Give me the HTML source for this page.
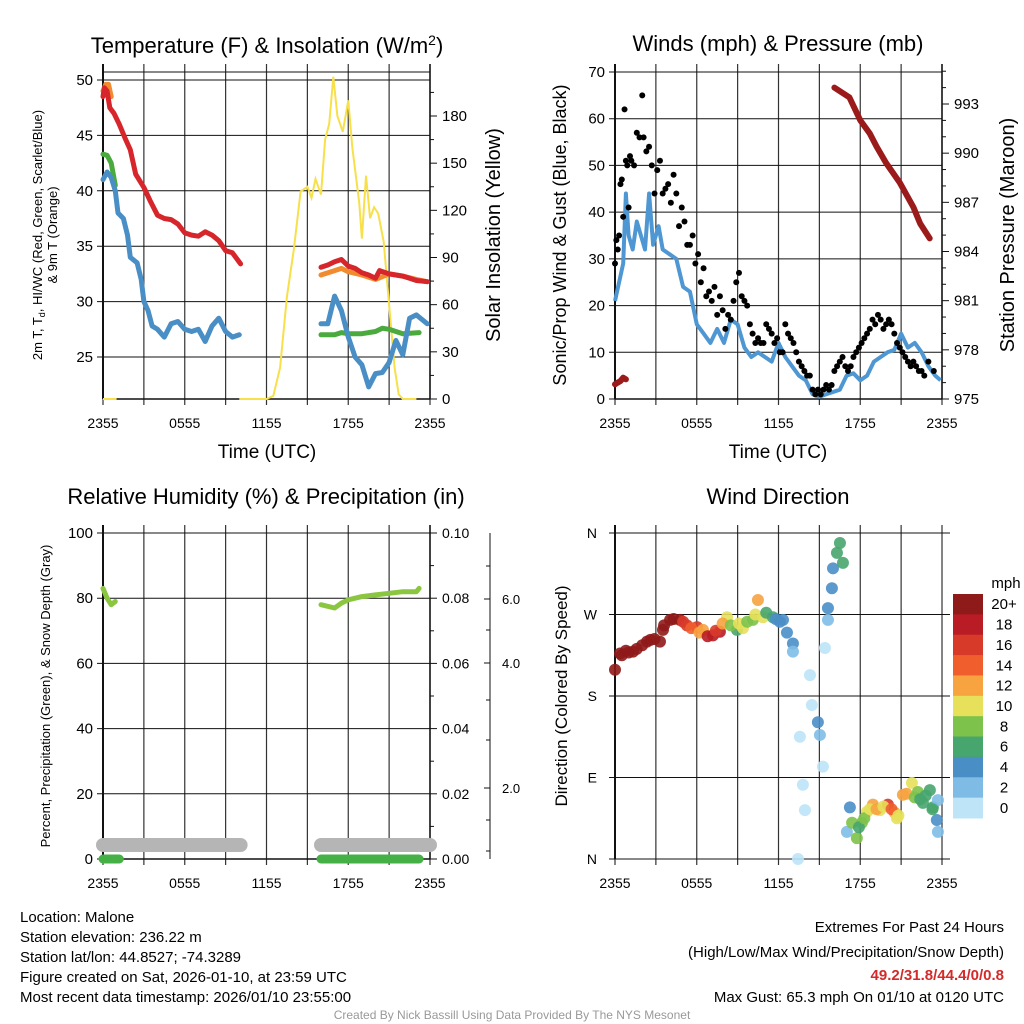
<!DOCTYPE html>
<html><head><meta charset="utf-8"><style>
html,body{margin:0;padding:0;background:#fff;}
svg{display:block;font-family:"Liberation Sans",sans-serif;}
</style></head><body>
<svg id="c" width="1024" height="1024" viewBox="0 0 1024 1024"></svg>
<script>
// ---- data (t = hours since 2355 UTC) ----
const tempT=[0,0.1,0.3,0.5,0.8,1.2,1.6,2,2.4,3,3.5,4,4.5,5,5.5,6,6.5,7,7.5,8,8.5,9,9.5,10.1,null,16,16.5,17,17.5,18,18.5,19,19.5,20,20.3,21,22,22.5,23,23.8];
const tempV=[48.5,49.3,49,47.5,47,46,44.8,43.7,41.5,40.3,39,37.8,37.5,37.4,37,36.2,36,35.9,36.3,36,35.5,34.6,34.4,33.4,null,33.1,33.3,33.6,33.8,33.2,33,32.6,32.4,32.1,32.8,32.5,32.3,32.1,31.9,31.8];
const t9T=[0,0.2,0.4,0.6,null,16,17,17.5,18,19,20,21,22,23,23.8];
const t9V=[49,49.6,49.6,48.5,null,32.4,32.8,33,32.7,32.4,32,32.5,32.3,32,31.8];
const tdT=[0,0.3,0.6,0.9,null,16,17,17.5,18,19,20,20.5,21,22,23.2];
const tdV=[43.3,43.2,42.5,40.5,null,27,27,27.2,27.1,27.1,27.3,27.6,27.5,27.1,27.2];
const wcT=[0,0.3,0.6,0.9,1.1,1.5,1.8,2,2.5,2.8,3,3.3,3.6,4,4.5,5,5.5,6,6.5,7,7.5,8,8.5,9,9.5,10,null,16,16.5,17,17.5,18,18.5,19,19.5,20,20.5,21,21.5,22,22.5,23,23.8];
const wcV=[41,41.7,41.2,40,38,37.5,36,34,33.5,32,30,29.2,27.8,27.5,26.8,28,28.2,27.5,27.3,27.5,26.4,27.8,28.5,27.3,26.8,27,null,28,28,30.5,29.2,26.8,25,24.3,22.3,23.5,23.6,24.5,26.5,25.2,28.5,28.8,28];
const solT=[0,1,null,10,12,12.5,13,13.5,14,14.5,15,15.3,15.6,16,16.3,16.6,16.9,17.2,17.6,18,18.3,18.8,19,19.3,19.6,19.9,20.2,20.6,21,21.4,21.7,22,23];
const solV=[0,0,null,0,0,2,20,65,95,132,135,128,140,130,165,175,205,180,170,190,160,125,102,142,115,122,118,100,60,20,3,0,0];

const windT=[0,0.3,0.6,0.8,1,1.3,1.6,1.9,2.2,2.5,2.8,3.2,3.5,4,4.5,5,5.5,6,6.5,7,7.5,8,8.5,9,9.5,10,10.5,11,11.5,12,12.5,13,13.5,14,14.5,15,15.5,16,16.5,17,17.5,18,18.5,19,19.5,20,20.5,21,21.5,22,22.5,23,23.5,23.9];
const windV=[21,25,29,44,35,32,38,35,32,44,33,37,32,31,30,24,23,16,14,12,15,12,17,16,11,9,10,9,8,12,9,7,5,4,1,0.5,1,1.5,2,5,5.5,4,5,8,9,10,10.5,14,11,12,10,7,5,4];
const gustT=[0,0.1,0.2,0.3,0.4,0.5,0.6,0.7,0.8,0.9,1.0,1.1,1.2,1.4,1.6,1.8,2.0,2.1,2.3,2.5,2.7,2.9,3.1,3.3,3.5,3.7,3.9,4.1,4.3,4.5,4.7,4.9,5.1,5.3,5.5,5.7,5.9,6.1,6.3,6.5,6.7,6.9,7.1,7.3,7.5,7.7,7.9,8.1,8.3,8.5,8.7,8.9,9.1,9.3,9.5,9.7,9.9,10.1,10.3,10.5,10.7,10.9,11.1,11.3,11.5,11.7,11.9,12.1,12.3,12.5,12.7,12.9,13.1,13.3,13.5,13.7,13.9,14.1,14.3,14.5,14.7,14.9,15.1,15.3,15.5,15.7,15.9,16.1,16.3,16.5,16.7,16.9,17.1,17.3,17.5,17.7,17.9,18.1,18.3,18.5,18.7,18.9,19.1,19.3,19.5,19.7,19.9,20.1,20.3,20.5,20.7,20.9,21.1,21.3,21.5,21.7,21.9,22.1,22.3,22.5,22.7,23.0,23.4];
const gustV=[29,34,32,35,46,47,39,62,51,50,41,52,51,50,57,56,65,56,53,54,50,44,49,51,44,45,46,42,48,44,37,41,38,33,33,35,29,31,25,28,22,23,21,24,18,22,19,15,18,17,21,25,27,22,21,20,16,14,12,13,12,12,16,15,14,12,13,10,10,16,14,13,12,10,8,7,6,5,5,2,1,2,1,2,3,2,3,6,7,8,9,7,6,7,9,10,11,12,13,14,15,17,16,18,17,15,16,17,16,14,12,11,10,9,8,7,8,7,6,6,5,8,6];
const presT=[0,0.2,0.4,0.6,0.8,null,16.1,17.2,18,18.7,19.2,19.9,20.9,21.9,22.4,23.1];
const presV=[975.9,976,976.1,976.3,976.2,null,994.0,993.4,992.0,991.2,990.4,989.4,988.2,986.7,985.7,984.8];

const rhT=[0,0.3,0.6,0.9,null,16,17,17.5,18,19,20,21,22,23,23.2];
const rhV=[83,80,78,79,null,78,77,78.5,79.5,80.5,81,81.5,82,82,83];
const prT=[0,1.2,null,16,23.2];
const prV=[0,0,null,0,0];
const snT=[0,10.1,null,16,24];
const snV=[0.5,0.5,null,0.5,0.5];

const dirT=[0,0.37,1.32,2.35,3.3,3.52,4.04,4.77,5.28,6.02,6.46,7.19,7.7,8.22,8.95,9.39,10.12,10.49,10.86,11.59,12.33,12.62,13.06,13.06,14.31,14.45,13.57,15.04,14.89,13.79,13.94,13.43,15.26,15.41,15.63,15.63,15.92,16.0,16.29,16.51,16.73,17.24,17.02,17.75,18.12,18.49,18.93,19.44,20.03,20.54,20.69,21.13,21.79,22.23,22.6,23.11,23.33,23.62,23.7,23.7,
0.5,0.8,1.0,1.6,2.0,2.6,2.9,3.6,4.3,5.0,5.6,6.2,6.8,7.4,7.9,8.5,9.1,9.7,10.3,11.1,11.8,12.1,17.4,17.9,18.3,18.7,19.2,19.7,20.3,20.8,21.4,22.0,22.4,22.8,23.3];
const dirV=[209,227,229,240,240,253,264,264,258,256,253,247,251,267,253,255,264,286,267,267,264,250,238,229,203,170,135,137,151,82,54,0,102,233,264,277,299,321,338,349,327,57,30,23,40,52,60,54,60,51,45,71,84,74,62,76,57,43,30,65,
225,230,228,232,236,242,243,258,265,262,255,250,246,252,260,258,260,262,270,272,265,262,40,35,45,55,55,58,55,48,72,68,66,70,55];
const dirS=[20,20,20,20,20,20,20,20,16,16,12,18,18,10,6,10,8,12,10,6,4,4,4,2,0,0,0,2,4,0,0,0,0,0,2,4,4,4,6,6,6,4,2,8,8,10,12,10,16,12,10,12,10,8,6,6,6,4,2,2,
20,20,20,20,20,20,20,20,20,16,14,12,18,16,12,8,10,8,10,6,4,4,8,6,8,10,12,10,14,10,12,8,6,6,6];

const cbLabels=["20+","18","16","14","12","10","8","6","4","2","0"];
const cbColors=["#8f1a1a","#b91c24","#d83a2a","#ef5e2c","#f6a340","#e6e05a","#7dc24a","#47a56e","#4a8ec6","#7fbce5","#bde4f7"];
const timeLabels=["2355","0555","1155","1755","2355"];

// ---- drawing ----
const NS="http://www.w3.org/2000/svg";
const svg=document.getElementById('c');
function el(tag,attrs,parent){const e=document.createElementNS(NS,tag);for(const k in attrs)e.setAttribute(k,attrs[k]);(parent||svg).appendChild(e);return e;}
function txt(s,x,y,size,anchor,parent,extra){const e=el('text',Object.assign({x:x,y:y,'font-size':size,'text-anchor':anchor||'middle',fill:'#000'},extra||{}),parent);e.textContent=s;return e;}
function line(x1,y1,x2,y2,parent,st){return el('line',{x1:x1,y1:y1,x2:x2,y2:y2,stroke:(st&&st.c)||'#111','stroke-width':(st&&st.w)||1},parent);}
function path(T,V,sx,sy){let d='',pen=false;for(let i=0;i<T.length;i++){if(T[i]===null){pen=false;continue;}d+=(pen?'L':'M')+sx(T[i]).toFixed(1)+','+sy(V[i]).toFixed(1);pen=true;}return d;}

function panel(name,x0,x1,yTop,yBot){
  const g=el('g',{});
  
  
  const sx=t=>x0+t*(x1-x0)/24;
  for(let i=0;i<=8;i++){const x=sx(i*3);line(x,yTop-8,x,yBot+6,g,{c:'#333',w:1.2});}
  timeLabels.forEach((s,i)=>{const t=txt(s,sx(i*6),yBot+29,14,'middle',g);});
  return {g,sx};
}

// Panel 1: temperature
(function(){
  const x0=103,x1=430,yT=72,yB=399;
  const P=panel('temperature-panel',x0,x1,yT,yB);const g=P.g,sx=P.sx;
  const sy=v=>357-(v-25)*(277/25);
  const sr=v=>399-v*283/180;
  line(x0,yT,x1,yT,g);line(x0,yB,x1,yB,g,{w:1.5});
  line(x0,yT-8,x0,yB,g,{w:2});line(x1,yT-8,x1,yB,g,{w:1.5});
  for(let v=25;v<=50;v+=5){line(x0-6,sy(v),x1,sy(v),g);const t=txt(String(v),x0-10,sy(v)+5,15,'end',g);}
  for(let v=0;v<=180;v+=30){line(x1,sr(v),x1+7,sr(v),g);const t=txt(String(v),x1+12,sr(v)+5,15,'start',g);}
  for(let v=15;v<=195;v+=30){line(x1,sr(v),x1+4,sr(v),g);}
  const sol=el('path',{d:path(solT,solV,sx,sr),fill:'none',stroke:'#f7e04a','stroke-width':2},g);
  
  const series=[[t9T,t9V,'#f28a2e','temp-9m-line'],[tempT,tempV,'#d7262b','temp-2m-line'],[tdT,tdV,'#4aaa3e','dewpoint-line'],[wcT,wcV,'#4a8ec6','windchill-line']];
  series.forEach(s=>{const p=el('path',{d:path(s[0],s[1],sx,sy),fill:'none',stroke:s[2],'stroke-width':5,'stroke-linejoin':'round','stroke-linecap':'round'},g);});
  const ti=el('text',{x:267,y:53,'font-size':22,'text-anchor':'middle'},g);
  ti.innerHTML='Temperature (F) &amp; Insolation (W/m<tspan dy="-8" font-size="14">2</tspan><tspan dy="8">)</tspan>';
  
  const a=txt('Time (UTC)',267,458,19,'middle',g);
  const l1=el('text',{x:0,y:0,'font-size':13,'text-anchor':'middle',transform:'translate(42,235) rotate(-90)'},g);
  l1.innerHTML='2m T, T<tspan dy="3" font-size="9">d</tspan><tspan dy="-3">, HI/WC (Red, Green, Scarlet/Blue)</tspan>';
  
  const l2=txt('& 9m T (Orange)',0,0,13,'middle',g,{transform:'translate(57,235) rotate(-90)'});
  const r=txt('Solar Insolation (Yellow)',0,0,20,'middle',g,{transform:'translate(500,235) rotate(-90)'});
})();

// Panel 2: winds
(function(){
  const x0=615,x1=942,yT=72,yB=399;
  const P=panel('winds-panel',x0,x1,yT,yB);const g=P.g,sx=P.sx;
  const sy=v=>399-v*327/70;
  const sp=p=>399-(p-975)*295/18;
  line(x0,yB,x1,yB,g,{w:1.5});line(x0,yT-8,x0,yB,g,{w:2});line(x1,yT-8,x1,yB,g,{w:1.5});
  for(let v=0;v<=70;v+=10){line(x0-6,sy(v),x1,sy(v),g);const t=txt(String(v),x0-10,sy(v)+5,15,'end',g);}
  for(let v=975;v<=993;v+=3){line(x1,sp(v),x1+7,sp(v),g);const t=txt(String(v),x1+12,sp(v)+5,15,'start',g);}
  for(let v=976;v<=995;v++){if((v-975)%3)line(x1,sp(v),x1+4,sp(v),g);}
  const w=el('path',{d:path(windT,windV,sx,sy),fill:'none',stroke:'#4f97d2','stroke-width':4,'stroke-linejoin':'round'},g);
  
  gustT.forEach((t,i)=>{const c=el('circle',{cx:sx(t),cy:sy(gustV[i]),r:3,fill:'#000'},g);});
  const p=el('path',{d:path(presT,presV,sx,sp),fill:'none',stroke:'#9b1b1b','stroke-width':6,'stroke-linecap':'round','stroke-linejoin':'round'},g);
  
  const ti=txt('Winds (mph) & Pressure (mb)',778,51,22,'middle',g);
  const a=txt('Time (UTC)',778,458,19,'middle',g);
  const l=txt('Sonic/Prop Wind & Gust (Blue, Black)',0,0,18,'middle',g,{transform:'translate(566,235) rotate(-90)'});
  const r=txt('Station Pressure (Maroon)',0,0,20,'middle',g,{transform:'translate(1014,235) rotate(-90)'});
})();

// Panel 3: RH & precip
(function(){
  const x0=103,x1=430,yT=533,yB=859;
  const P=panel('humidity-panel',x0,x1,yT,yB);const g=P.g,sx=P.sx;
  const sy=v=>859-v*326/100;
  line(x0,yB,x1,yB,g,{w:1.5});line(x0,yT-8,x0,yB,g,{w:2});line(x1,yT-8,x1,yB,g,{w:1.5});
  for(let v=0;v<=100;v+=20){line(x0-6,sy(v),x1,sy(v),g);const t=txt(String(v),x0-10,sy(v)+5,15,'end',g);}
  for(let v=0;v<=10;v+=2){line(x1,sy(v*10),x1+7,sy(v*10),g);const t=txt((v/100).toFixed(2),x1+12,sy(v*10)+5,14,'start',g);}
  for(let v=1;v<10;v+=2){line(x1,sy(v*10),x1+4,sy(v*10),g);}
  line(490,533,490,859,g);
  const snowY=[[788,'2.0'],[663,'4.0'],[599,'6.0']];
  snowY.forEach(s=>{line(484,s[0],490,s[0],g);const t=txt(s[1],502,s[0]+5,13,'start',g);});
  [851,820,740,700,630,566].forEach(y=>line(486,y,490,y,g));
  const sn=el('path',{d:path(snT,snV,sx,v=>845-(v-0.5)*20),fill:'none',stroke:'#b5b5b5','stroke-width':14,'stroke-linecap':'round'},g);
  
  const pr=el('path',{d:path(prT,prV,sx,v=>sy(v*1000)),fill:'none',stroke:'#44b046','stroke-width':9,'stroke-linecap':'round'},g);
  
  const rh=el('path',{d:path(rhT,rhV,sx,sy),fill:'none',stroke:'#8ac640','stroke-width':5,'stroke-linecap':'round','stroke-linejoin':'round'},g);
  
  const ti=txt('Relative Humidity (%) & Precipitation (in)',266,504,22,'middle',g);
  const l=txt('Percent, Precipitation (Green), & Snow Depth (Gray)',0,0,13,'middle',g,{transform:'translate(50,696) rotate(-90)'});
})();

// Panel 4: wind direction
(function(){
  const x0=615,x1=942,yT=533,yB=859;
  const P=panel('wind-direction-panel',x0,x1,yT,yB);const g=P.g,sx=P.sx;
  const sy=d=>859-d*326/360;
  line(x0,yT-8,x0,yB,g,{w:2});
  ['N','E','S','W','N'].forEach((s,i)=>{line(x0-6,sy(i*90),x1+8,sy(i*90),g);const t=txt(s,x0-18,sy(i*90)+5,14,'end',g);});
  const colorFor=s=>cbColors[10-Math.min(10,Math.round(s/2))];
  dirT.forEach((t,i)=>{const c=el('circle',{cx:sx(t),cy:sy(dirV[i]),r:6,fill:colorFor(dirS[i]),'fill-opacity':0.9},g);});
  const ti=txt('Wind Direction',778,504,22,'middle',g);
  const l=txt('Direction (Colored By Speed)',0,0,17,'middle',g,{transform:'translate(567,696) rotate(-90)'});
  const cb=el('g',{},g);
  
  const bh=224/cbLabels.length;
  cbLabels.forEach((s,i)=>{const r=el('rect',{x:953,y:594+i*bh,width:30,height:bh+0.5,fill:cbColors[i]},cb);
    const t=txt(s,1004,594+i*bh+bh/2+5,15,'middle',cb);});
  const u=txt('mph',1006,588,15,'middle',cb);
})();

// footer text
const infoLines=["Location: Malone","Station elevation: 236.22 m","Station lat/lon: 44.8527; -74.3289","Figure created on Sat, 2026-01-10, at 23:59 UTC","Most recent data timestamp: 2026/01/10 23:55:00"];
infoLines.forEach((s,i)=>{const t=txt(s,20,922+i*20,15,'start');});
const ex1=txt('Extremes For Past 24 Hours',1004,932,15,'end');
const ex2=txt('(High/Low/Max Wind/Precipitation/Snow Depth)',1004,957,15,'end');
const ex3=txt('49.2/31.8/44.4/0/0.8',1004,980,15,'end',null,{fill:'#d42a2a','font-weight':'bold'});
const ex4=txt('Max Gust: 65.3 mph On 01/10 at 0120 UTC',1004,1002,15,'end');
const cr=txt('Created By Nick Bassill Using Data Provided By The NYS Mesonet',512,1019,12,'middle',null,{fill:'#999'});
</script>
</body></html>
